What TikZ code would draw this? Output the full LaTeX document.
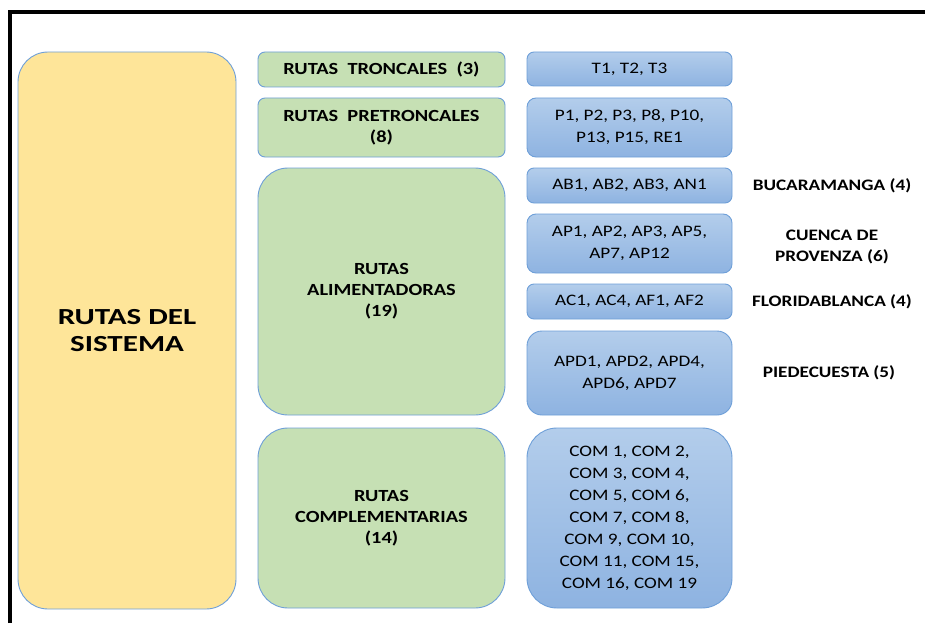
\documentclass[tikz,border=0pt]{standalone}
\usepackage{fontspec}
\setmainfont{Carlito}
\newfontfamily\fuenteazul[FakeStretch=1.2]{Carlito}
\newfontfamily\fuenteverde[FakeStretch=1.2]{Carlito}
\newfontfamily\fuentesistema[FakeStretch=1.35]{Carlito}
\definecolor{amarillo}{HTML}{FEE599}
\definecolor{verde}{HTML}{C6E0B4}
\definecolor{azulclaro}{HTML}{B3CDEB}
\definecolor{azuloscuro}{HTML}{8EB3E1}
\definecolor{bordeazul}{HTML}{6E9FD8}
\begin{document}
\begin{tikzpicture}
[x=1pt,y=-1pt,
  sistema/.style={draw=bordeazul,line width=0.9pt,fill=amarillo,rounded corners=30pt,
    align=center,font=\fuentesistema\fontsize{23}{27}\selectfont\bfseries},%
  grupo/.style={draw=bordeazul,line width=0.9pt,fill=verde,align=center,
    minimum width=247pt,font=\fuenteverde\fontsize{17}{21}\selectfont\bfseries},%
  rutas/.style={draw=bordeazul,line width=0.9pt,top color=azulclaro,bottom color=azuloscuro,
    align=center,minimum width=205pt,font=\fuenteazul\fontsize{16}{22}\selectfont},%
  zona/.style={align=center,font=\fuenteverde\fontsize{16}{21}\selectfont\bfseries}]
\useasboundingbox (0,0) rectangle (925,623);
%% marco
\draw[line width=4pt] (10,623) -- (10,12) -- (925,12);
%% sistema
\node (sistema) at (127,330.5) [sistema,minimum width=218pt,minimum height=557pt]
  {RUTAS DEL\\SISTEMA};
%% grupos
\foreach \nombre/\y/\h/\r/\texto in {troncales/69.5/35/7/{RUTAS~ TRONCALES~ (3)},
  pretroncales/127.5/59/7/{RUTAS~ PRETRONCALES\\(8)},
  alimentadoras/291.5/247/30/{RUTAS\\ALIMENTADORAS\\(19)},
  complementarias/518/180/30/{RUTAS\\COMPLEMENTARIAS\\(14)}} {
  \node (\nombre) at (381.5,\y) [grupo,minimum height=\h pt,rounded corners=\r pt] {\texto};
}
%% rutas
\foreach \nombre/\y/\h/\r/\texto in {t/69/34/7/{T1, T2, T3},
  p/127.5/59/9/{P1, P2, P3, P8, P10,\\P13, P15, RE1},
  ab/185.5/35/7/{AB1, AB2, AB3, AN1},
  ap/243.5/59/9/{AP1, AP2, AP3, AP5,\\AP7, AP12},
  ac/301.5/35/7/{AC1, AC4, AF1, AF2},
  apd/373/84/15/{APD1, APD2, APD4,\\APD6, APD7},
  com/518/180/30/{COM 1, COM 2,\\COM 3, COM 4,\\COM 5, COM 6,\\COM 7, COM 8,\\COM 9, COM 10,\\COM 11, COM 15,\\COM 16, COM 19}} {
  \node (\nombre) at (629.5,\y) [rutas,minimum height=\h pt,rounded corners=\r pt] {\texto};
}
%% zonas
\foreach \nombre/\x/\y/\texto in {bucaramanga/832/185.5/{BUCARAMANGA (4)},
  provenza/832/247/{CUENCA DE\\PROVENZA (6)},
  floridablanca/832/301.5/{FLORIDABLANCA (4)},
  piedecuesta/829/373/{PIEDECUESTA (5)}} {
  \node (\nombre) at (\x,\y) [zona] {\texto};
}
\end{tikzpicture}
\end{document}
